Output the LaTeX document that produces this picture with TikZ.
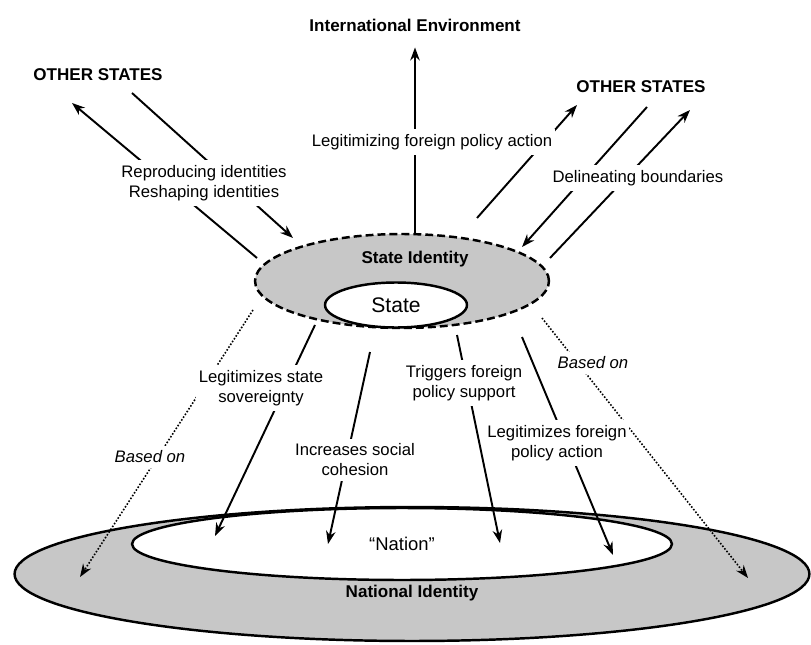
\documentclass[tikz,border=0pt]{standalone}
\usepackage{fontspec}
\setmainfont{Liberation Sans}
\usetikzlibrary{shapes.geometric,arrows.meta}

\tikzset{
  arr/.style={line width=1.1pt, -{Stealth[length=2.6mm,width=1.9mm]}},
  basedon/.style={line width=0.9pt, densely dotted, -{Stealth[length=2.6mm,width=1.9mm]}},
  lbl/.style={font=\fontsize{9.5}{11.4}\selectfont, align=center, fill=white, inner xsep=1.5pt, inner ysep=3pt},
  head/.style={font=\fontsize{9.7}{11.6}\selectfont\bfseries},
  ring/.style={ellipse, draw, line width=1.4pt, fill=black!22, inner sep=0pt},
  core/.style={ellipse, draw, line width=1.4pt, fill=white, inner sep=0pt},
}

\begin{document}
\begin{tikzpicture}[x=0.02cm, y=-0.02cm]
  \useasboundingbox (0,0) rectangle (811,645);

  % national level
  \node [ring, minimum width=15.9cm, minimum height=2.68cm] (nid) at (412,574) {};
  \node [core, minimum width=10.8cm, minimum height=1.44cm,
         font=\fontsize{10.5}{12}\selectfont] (nation) at (402,544) {“Nation”};
  \node [head] (nidtext) at (412,593) {National Identity};

  % state level
  \node [ring, dash pattern=on 4.5pt off 2.3pt, minimum width=5.88cm, minimum height=1.88cm] (sid) at (402,281) {};
  \node [core, minimum width=2.84cm, minimum height=0.9cm,
         font=\fontsize{12}{14}\selectfont] (state) at (396,305) {State};
  \node [head] (sidtext) at (415,259) {State Identity};

  % outer world
  \node [head] (intenv) at (415,25) {International Environment};
  \node [head] (othleft) at (98,75) {OTHER STATES};
  \node [head] (othright) at (641,87) {OTHER STATES};

  % connector ends
  \coordinate (outleft) at (257,258);
  \coordinate (outlefttip) at (72,103);
  \coordinate (inleft) at (132,93);
  \coordinate (inlefttip) at (293,238);
  \coordinate (outmid) at (477,218);
  \coordinate (outmidtip) at (577,105);
  \coordinate (inright) at (647,107);
  \coordinate (inrighttip) at (522,247);
  \coordinate (outright) at (550,258);
  \coordinate (outrighttip) at (690,110);
  \coordinate (basedleft) at (253,310);
  \coordinate (basedlefttip) at (80,577);
  \coordinate (sovfrom) at (315,325);
  \coordinate (sovtip) at (215,536);
  \coordinate (cohfrom) at (370,352);
  \coordinate (cohtip) at (328,544);
  \coordinate (trigfrom) at (457,335);
  \coordinate (trigtip) at (500,543);
  \coordinate (actfrom) at (522,337);
  \coordinate (acttip) at (613,555);
  \coordinate (basedright) at (542,318);
  \coordinate (basedrighttip) at (748,578);

  \draw [arr, shorten >=2mm] (sid.north -| intenv.south) -- (intenv.south);
  \draw [arr] (outleft) -- (outlefttip);
  \draw [arr] (inleft) -- (inlefttip);
  \draw [arr] (outmid) -- (outmidtip);
  \draw [arr] (inright) -- (inrighttip);
  \draw [arr] (outright) -- (outrighttip);

  \draw [basedon] (basedleft) -- (basedlefttip);
  \draw [arr] (sovfrom) -- (sovtip);
  \draw [arr] (cohfrom) -- (cohtip);
  \draw [arr] (trigfrom) -- (trigtip);
  \draw [arr] (actfrom) -- (acttip);
  \draw [basedon] (basedright) -- (basedrighttip);

  % labels over the connectors
  \node [lbl] (legaction) at (432,142) {Legitimizing foreign policy action};
  \node [lbl] (reshape) at (204,183) {Reproducing identities\\Reshaping identities};
  \node [lbl] (delineate) at (638,178) {Delineating boundaries};
  \node [lbl] (sovereign) at (261,388) {Legitimizes state\\sovereignty};
  \node [lbl] (cohesion) at (355,460) {Increases social\\cohesion};
  \node [lbl] (triggers) at (464,383) {Triggers foreign\\policy support};
  \node [lbl] (legpolicy) at (557,443) {Legitimizes foreign\\policy action};
  \node [lbl, font=\fontsize{9.5}{11.4}\selectfont\itshape] (basedonleft) at (150,457) {Based on};
  \node [lbl, font=\fontsize{9.5}{11.4}\selectfont\itshape] (basedonright) at (593,363) {Based on};
\end{tikzpicture}
\end{document}
